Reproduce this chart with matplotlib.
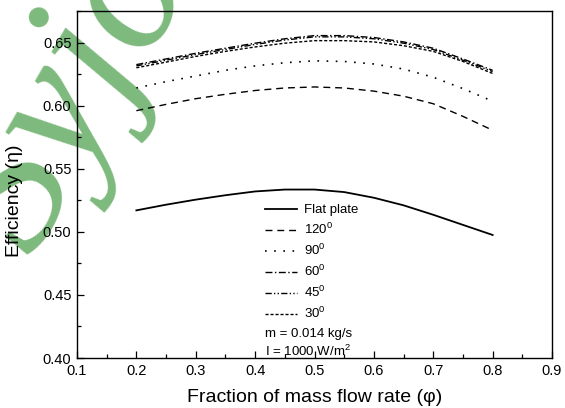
import matplotlib
matplotlib.use("Agg")
import matplotlib.pyplot as plt
from matplotlib.ticker import MultipleLocator, FormatStrFormatter

plt.rcParams['font.family'] = ['Liberation Sans', 'DejaVu Sans']
plt.rcParams['mathtext.fontset'] = 'custom'
plt.rcParams['mathtext.rm'] = 'Liberation Sans'
plt.rcParams['mathtext.it'] = 'Liberation Sans:italic'

phi = [0.2, 0.25, 0.3, 0.35, 0.4, 0.45, 0.5, 0.55, 0.6, 0.65, 0.7, 0.75, 0.8]
flat = [0.517, 0.5215, 0.5255, 0.529, 0.532, 0.5335, 0.5335, 0.5315, 0.527, 0.521, 0.5135, 0.5055, 0.4975]
a120 = [0.596, 0.601, 0.6055, 0.609, 0.612, 0.614, 0.6148, 0.614, 0.6115, 0.6075, 0.6015, 0.5915, 0.5805]
a90 = [0.614, 0.619, 0.6235, 0.628, 0.6315, 0.634, 0.6355, 0.635, 0.633, 0.629, 0.6225, 0.6135, 0.6035]
a60 = [0.6325, 0.637, 0.6415, 0.6455, 0.6495, 0.653, 0.6555, 0.6555, 0.654, 0.6505, 0.6455, 0.637, 0.628]
a45 = [0.6315, 0.636, 0.6405, 0.6445, 0.6485, 0.652, 0.6545, 0.6545, 0.653, 0.6495, 0.6445, 0.636, 0.627]
a30 = [0.630, 0.6345, 0.639, 0.643, 0.6465, 0.6495, 0.6515, 0.6515, 0.6505, 0.6475, 0.643, 0.635, 0.6255]
labels = ['Flat plate', '120$^0$', '90$^0$', '60$^0$', '45$^0$', '30$^0$']
notes = ['m = 0.014 kg/s', 'I = 1000 W/m$^2$']
watermark = 'Syjo'

fig = plt.figure(figsize=(5.65, 4.08), dpi=100)
ax = fig.add_axes([77/565, 1-358/408, (552-77)/565, (358-11)/408])
ax.patch.set_alpha(0)

# watermark behind the chart
fig.text(31/565, 1-258/408, watermark, rotation=60, rotation_mode='anchor',
         ha='left', va='baseline', fontsize=135, family='Liberation Serif',
         style='italic', color='#7db97d', zorder=-5)

series = [flat, a120, a90, a60, a45, a30]
styles = [
    dict(ls='-', lw=1.3),
    dict(ls=(0, (5, 3.5)), lw=1.0),
    dict(ls=(0, (1, 4.5)), lw=1.2),
    dict(ls=(0, (5, 1.8, 1, 1.8)), lw=1.0),
    dict(ls=(0, (4.5, 1.6, 1, 1.6, 1, 1.6)), lw=1.0),
    dict(ls=(0, (2.2, 1.4)), lw=1.0),
]
for ys, st, lab in zip(series, styles, labels):
    ax.plot(phi, ys, color='black', label=lab, **st)

ax.set_xlim(0.1, 0.9)
ax.set_ylim(0.40, 0.675)
ax.xaxis.set_major_locator(MultipleLocator(0.1))
ax.xaxis.set_minor_locator(MultipleLocator(0.05))
ax.yaxis.set_major_locator(MultipleLocator(0.05))
ax.yaxis.set_minor_locator(MultipleLocator(0.025))
ax.xaxis.set_major_formatter(FormatStrFormatter('%.1f'))
ax.yaxis.set_major_formatter(FormatStrFormatter('%.2f'))
ax.tick_params(which='both', direction='in', top=False, right=False, labelsize=10.5, colors='black')
ax.tick_params(which='major', length=5, width=0.9, pad=4)
ax.tick_params(which='minor', length=3, width=0.9)
for s in ax.spines.values():
    s.set_linewidth(1.0)

ax.set_xlabel('Fraction of mass flow rate (φ)', fontsize=14)
ax.xaxis.set_label_coords(0.5, (358-397)/347)
ax.xaxis.label.set_va('center')
ax.set_ylabel('Efficiency (η)', fontsize=14)
ax.yaxis.set_label_coords((15-77)/475, (358-201)/347)
ax.yaxis.label.set_va('center')

leg = ax.legend(loc='upper left', bbox_to_anchor=((265-77)/475, (358-204)/347),
                frameon=False, fontsize=9.5, borderpad=0, borderaxespad=0,
                handlelength=2.4, handletextpad=0.55, labelspacing=0.44)
ax.text((265-77)/475, (358-334)/347, notes[0], transform=ax.transAxes, fontsize=9.5, va='center', ha='left')
ax.text((265-77)/475, (358-351)/347, notes[1], transform=ax.transAxes, fontsize=9.5, va='center', ha='left')

fig.savefig('out.png', dpi=100)
